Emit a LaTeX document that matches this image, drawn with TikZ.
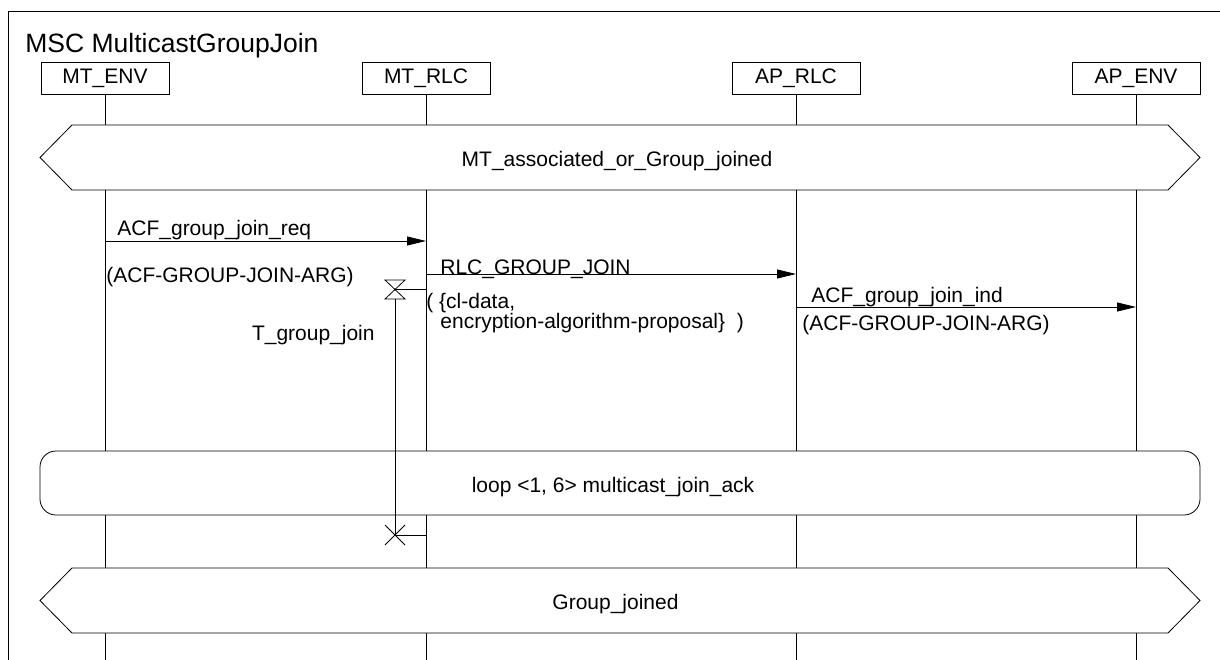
\documentclass[tikz,border=0pt]{standalone}
\usepackage{fontspec}
\setmainfont{Liberation Sans}
\usetikzlibrary{arrows.meta}

\begin{document}
\begin{tikzpicture}[x=1pt,y=-1pt,line width=0.8pt,
    font=\fontsize{21}{21}\selectfont,
    inst/.style={draw,fill=white,minimum width=128pt,minimum height=32pt,inner sep=0pt},
    lbl/.style={anchor=base west,inner sep=0pt},
    msg/.style={-{Triangle[length=19pt,width=9pt]}},
    cond/.style={draw,fill=white}]
  \useasboundingbox (0,0) rectangle (1220,660);

  % Drawing frame and title
  \draw (8,660) -- (8,11) -- (1220,11);
  \node[lbl,font=\fontsize{26.5}{26.5}\selectfont] (title) at (25,53) {MSC MulticastGroupJoin};

  % Marking instances
  \node[inst] (mtenv) at (105,78) {MT\_ENV};
  \node[inst] (mtrlc) at (426,78) {MT\_RLC};
  \node[inst] (aprlc) at (796,78) {AP\_RLC};
  \node[inst] (apenv) at (1136,78) {AP\_ENV};

  % Drawing lifelines
  \coordinate (bot) at (0,660);
  \foreach \n in {mtenv,mtrlc,aprlc,apenv}
    \draw (\n.south) -- (\n.south |- bot);

  % Drawing condition MT_associated_or_Group_joined
  \draw[cond] (40,157.5) -- (72,125) -- (1168,125) -- (1200,157.5) -- (1168,190) -- (72,190) -- cycle;
  \node[lbl,anchor=base] (cond1) at (617,167) {MT\_associated\_or\_Group\_joined};

  % Drawing message ACF_group_join_req
  \coordinate (req-a) at (105,241);
  \coordinate (req-b) at (426,241);
  \draw[msg] (req-a) -- (req-b);
  \node[lbl] (req) at (117,236) {ACF\_group\_join\_req};
  \node[lbl] (reqarg) at (106,283) {(ACF-GROUP-JOIN-ARG)};

  % Drawing message RLC_GROUP_JOIN
  \coordinate (join-a) at (426,274);
  \coordinate (join-b) at (796,274);
  \draw[msg] (join-a) -- (join-b);
  \node[lbl] (join) at (440,274) {RLC\_GROUP\_JOIN};
  \node[lbl] (joinarg) at (426,308) {( \{cl-data,};
  \node[lbl] (joinarg2) at (440,328) {encryption-algorithm-proposal\}\ \ )};

  % Drawing message ACF_group_join_ind
  \coordinate (ind-a) at (796,307);
  \coordinate (ind-b) at (1136,307);
  \draw[msg] (ind-a) -- (ind-b);
  \node[lbl] (ind) at (811,302) {ACF\_group\_join\_ind};
  \node[lbl] (indarg) at (802,330) {(ACF-GROUP-JOIN-ARG)};

  % Drawing loop box
  \draw[cond,rounded corners=16pt] (40,451) rectangle (1200,515);
  \node[lbl,anchor=base] (loop) at (613,492) {loop <1, 6> multicast\_join\_ack};

  % Drawing timer T_group_join
  \coordinate (tset) at (395,289);
  \coordinate (tset-l) at (426,289);
  \coordinate (tout) at (395,535);
  \coordinate (tout-l) at (426,535);
  \draw (385,280) -- (405,280) -- (385,299) -- (405,299) -- cycle;
  \draw (tset) -- (tset-l);
  \draw (tset) ++(0,10) -- (tout);
  \draw (tout) ++(-10,-10) -- ++(20,20) (tout) ++(-10,10) -- ++(20,-20);
  \draw (tout) -- (tout-l);
  \node[lbl,anchor=base east] (timer) at (375,340) {T\_group\_join};

  % Drawing condition Group_joined
  \draw[cond] (40,600.5) -- (72,568) -- (1168,568) -- (1200,600.5) -- (1168,633) -- (72,633) -- cycle;
  \node[lbl,anchor=base] (cond2) at (615.5,609) {Group\_joined};
\end{tikzpicture}
\end{document}
